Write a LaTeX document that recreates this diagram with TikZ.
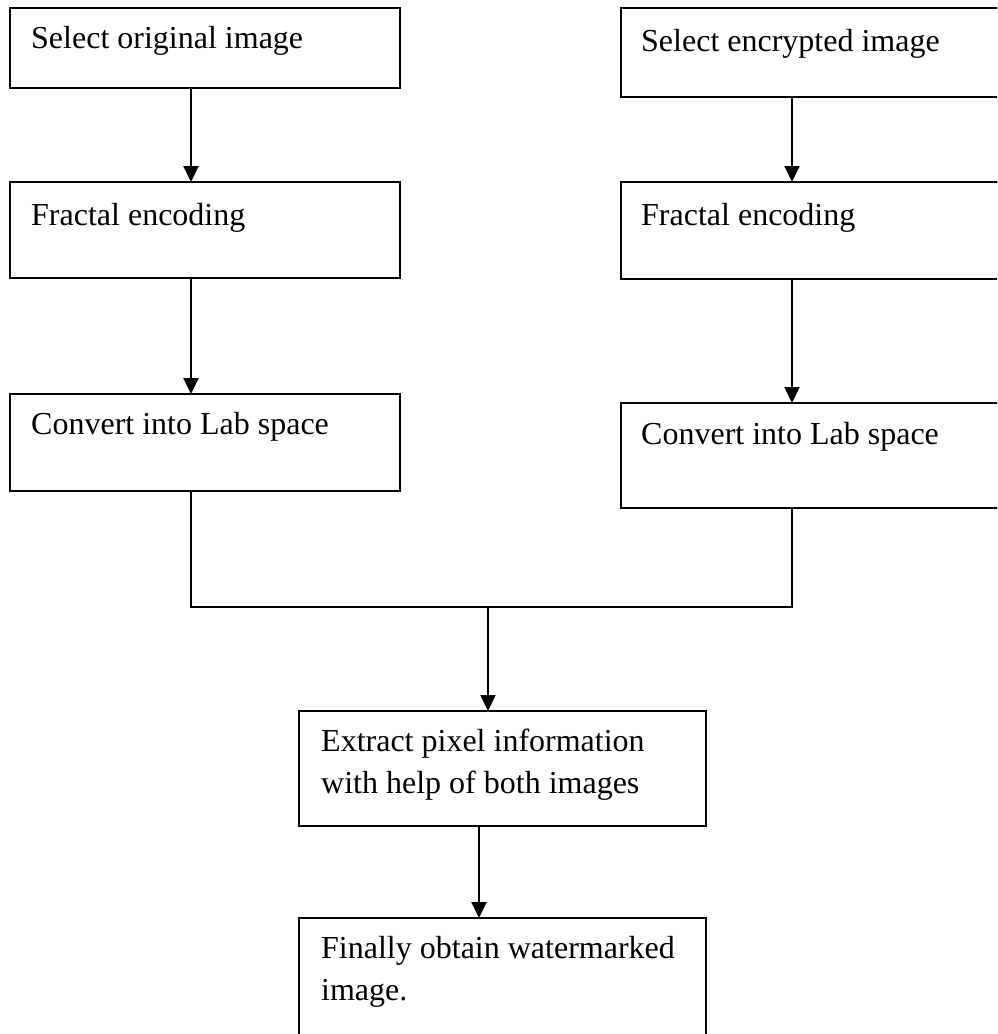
\documentclass[tikz,border=0pt]{standalone}
\usepackage{fontspec}
\setmainfont{Liberation Serif}
\usetikzlibrary{arrows.meta}
\tikzset{
  flowbox/.style={draw, line width=1.8pt, anchor=north west, inner sep=0pt, outer sep=0pt},
  flowtext/.style={anchor=base west, inner sep=0pt, align=left, font=\fontsize{32}{42}\selectfont},
  flowarrow/.style={-{Triangle[length=16pt,width=15pt]}, line width=2pt},
}
\begin{document}
\begin{tikzpicture}[x=1pt, y=-1pt]
\clip (0,0) rectangle (997,1034);
\fill[white] (0,0) rectangle (997,1034);
% left column: original image
\node[flowbox, minimum width=390pt, minimum height=80pt] (orig) at (10,8) {};
\node[flowtext] (origtxt) at ([shift={(21,40)}]orig.north west) {Select original image};
\node[flowbox, minimum width=390pt, minimum height=96pt] (fracL) at (10,182) {};
\node[flowtext] (fracLtxt) at ([shift={(21,43)}]fracL.north west) {Fractal encoding};
\node[flowbox, minimum width=390pt, minimum height=97pt] (labL) at (10,394) {};
\node[flowtext] (labLtxt) at ([shift={(21,40)}]labL.north west) {Convert into Lab space};
% right column: encrypted image
\node[flowbox, minimum width=390pt, minimum height=89pt] (enc) at (621,8) {};
\node[flowtext] (enctxt) at ([shift={(20,43)}]enc.north west) {Select encrypted image};
\node[flowbox, minimum width=390pt, minimum height=97pt] (fracR) at (621,182) {};
\node[flowtext] (fracRtxt) at ([shift={(20,43)}]fracR.north west) {Fractal encoding};
\node[flowbox, minimum width=390pt, minimum height=105pt] (labR) at (621,403) {};
\node[flowtext] (labRtxt) at ([shift={(20,41)}]labR.north west) {Convert into Lab space};
% bottom: merged steps
\node[flowbox, minimum width=407pt, minimum height=115pt] (extr) at (299,711) {};
\node[flowtext] (extrtxt) at ([shift={(22,82)}]extr.north west) {Extract pixel information\\with help of both images};
\node[flowbox, minimum width=407pt, minimum height=140pt] (final) at (299,918) {};
\node[flowtext] (finaltxt) at ([shift={(22,82)}]final.north west) {Finally obtain watermarked\\image.};
% arrows
\draw[flowarrow] ([xshift=181pt]orig.south west) -- ([xshift=181pt]fracL.north west);
\draw[flowarrow] ([xshift=181pt]fracL.south west) -- ([xshift=181pt]labL.north west);
\draw[flowarrow] ([xshift=171pt]enc.south west) -- ([xshift=171pt]fracR.north west);
\draw[flowarrow] ([xshift=171pt]fracR.south west) -- ([xshift=171pt]labR.north west);
% join of both branches
\coordinate (merge) at (488,607);
\draw[line width=1.6pt] ([xshift=181pt]labL.south west) |- (merge) -| ([xshift=171pt]labR.south west);
\draw[flowarrow] (merge) -- (merge |- extr.north);
\draw[flowarrow] ([xshift=180pt]extr.south west) -- ([xshift=180pt]final.north west);
\end{tikzpicture}
\end{document}
